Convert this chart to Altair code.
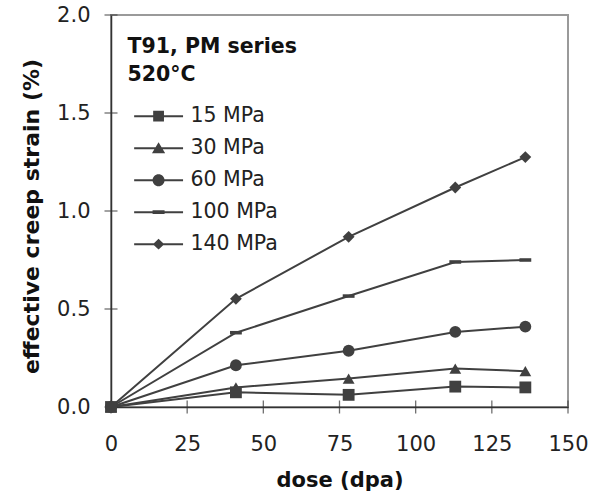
import altair as alt
import pandas as pd

# ---- data ----
series = ["15 MPa", "30 MPa", "60 MPa", "100 MPa", "140 MPa"]
dose = [0, 41, 78, 113, 136]
strain_15 = [0.0, 0.075, 0.062, 0.104, 0.100]
strain_30 = [0.0, 0.100, 0.145, 0.196, 0.183]
strain_60 = [0.0, 0.213, 0.287, 0.383, 0.410]
strain_100 = [0.0, 0.379, 0.566, 0.740, 0.750]
strain_140 = [0.0, 0.552, 0.868, 1.120, 1.275]
x_ticks = [0, 25, 50, 75, 100, 125, 150]
y_ticks = [0.0, 0.5, 1.0, 1.5, 2.0]
legend_title = ["T91, PM series", "520°C"]

values = {
    "15 MPa": strain_15,
    "30 MPa": strain_30,
    "60 MPa": strain_60,
    "100 MPa": strain_100,
    "140 MPa": strain_140,
}
rows = []
for s in reversed(series):  # draw 15 MPa last so its square sits on top
    for d, v in zip(dose, values[s]):
        rows.append({"series": s, "dose": d, "strain": v})
df = pd.DataFrame(rows)

DARK = "#404040"
AXIS = "#333333"
FONT = "DejaVu Sans"

xscale = alt.Scale(domain=[0, 150], nice=False, zero=True)
yscale = alt.Scale(domain=[0, 2.0], nice=False, zero=True)

x_enc = alt.X(
    "dose:Q", scale=xscale,
    axis=alt.Axis(values=x_ticks, format="d", title="dose (dpa)", ticks=False, tickSize=0,
                  grid=False, labelPadding=26, labelFontSize=21, labelColor="#222",
                  labelFont=FONT, titleFont=FONT, titleFontSize=21, titleFontWeight="bold",
                  titleColor="#111", titleY=79, titleBaseline="alphabetic",
                  domainColor=AXIS, domainWidth=1.5, labelFlush=False),
)
y_enc = alt.Y(
    "strain:Q", scale=yscale,
    axis=alt.Axis(values=y_ticks, format=".1f", title="effective creep strain (%)", ticks=False,
                  tickSize=0, grid=False, labelPadding=21, labelFontSize=21, labelColor="#222",
                  labelFont=FONT, titleFont=FONT, titleFontSize=22, titleFontWeight="bold",
                  titleColor="#111", titleX=-73, titleY=201, titleAngle=270,
                  titleAlign="center", titleBaseline="alphabetic",
                  domainColor=AXIS, domainWidth=1.5, labelFlush=False),
)

lines = alt.Chart(df).mark_line(color=DARK, strokeWidth=2).encode(
    x=x_enc, y=y_enc, detail="series:N", order="dose:Q"
)

point_shapes = ["square", "triangle-up", "circle", "M-1,-0.3L1,-0.3L1,0.3L-1,0.3Z", "diamond"]
points = alt.Chart(df).mark_point(filled=True, size=140, color=DARK, opacity=1).encode(
    x=x_enc, y=y_enc,
    shape=alt.Shape("series:N", scale=alt.Scale(domain=series, range=point_shapes), legend=None),
)

# legend symbols: line segment plus marker (custom SVG paths)
ln = "M-0.6,-0.17L7.55,-0.17L7.55,0.17L-0.6,0.17Z"
legend_paths = [
    ln + "M2.57,-0.9L4.37,-0.9L4.37,0.9L2.57,0.9Z",
    ln + "M3.47,-1L4.57,0.85L2.37,0.85Z",
    ln + "M2.47,0A1,1 0 1,1 4.47,0A1,1 0 1,1 2.47,0Z",
    ln + "M2.47,-0.3L4.47,-0.3L4.47,0.3L2.47,0.3Z",
    ln + "M3.47,-0.9L4.42,0L3.47,0.9L2.52,0Z",
]
legend_layer = alt.Chart(df).transform_filter("false").mark_point(
    filled=True, size=144, color=DARK, opacity=1
).encode(
    shape=alt.Shape(
        "series:N",
        scale=alt.Scale(domain=series, range=legend_paths),
        legend=alt.Legend(
            title=legend_title, orient="none", legendX=16.5, legendY=22, padding=0,
            titleFont=FONT, titleFontSize=20.5, titleFontWeight="bold", titleColor="#111",
            titleLineHeight=28.4, titlePadding=20, titleAnchor="start",
            labelFont=FONT, labelFontSize=20.5, labelColor="#222", labelOffset=42.5,
            rowPadding=11, symbolSize=144, symbolFillColor=DARK, symbolStrokeWidth=0,
            symbolOpacity=1, labelLimit=300,
        ),
    )
)

xt_df = pd.DataFrame({"v": x_ticks})
yt_df = pd.DataFrame({"v": y_ticks})
xticks = alt.Chart(xt_df).mark_tick(orient="vertical", size=13, thickness=1.3, color=AXIS).encode(
    x=alt.X("v:Q", scale=xscale), y=alt.Y(datum=0, scale=yscale)
)
yticks = alt.Chart(yt_df).mark_tick(orient="horizontal", size=13, thickness=1.3, color=AXIS).encode(
    y=alt.Y("v:Q", scale=yscale), x=alt.X(datum=0, scale=xscale)
)

chart = (
    alt.layer(lines, xticks, yticks, points, legend_layer)
    .resolve_scale(shape="independent")
    .properties(
        width=457, height=392,
        autosize=alt.AutoSizeParams(type="none"),
        padding={"left": 111, "top": 15, "right": 29, "bottom": 87},
        background="white",
    )
    .configure_view(stroke="#9a9a9a", strokeWidth=2)
)

chart.save("out.html", embed_options={"renderer": "svg", "actions": False})
